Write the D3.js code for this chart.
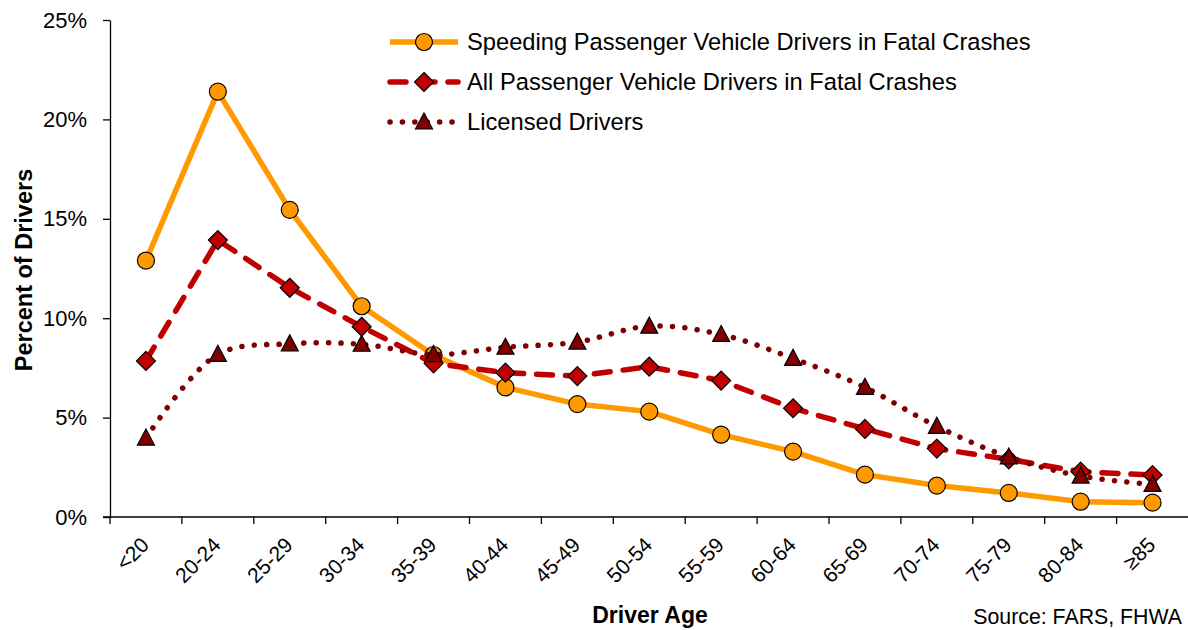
<!DOCTYPE html>
<html>
<head>
<meta charset="utf-8">
<script src="https://cdn.jsdelivr.net/npm/d3@7"></script>
<style>
  body { margin: 0; background: #fff; }
  text { font-family: "Liberation Sans", Arial, sans-serif; fill: #000; }
</style>
</head>
<body>
<div id="chart"></div>
<script>
// age groups on the x axis
const ages = ["<20", "20-24", "25-29", "30-34", "35-39", "40-44", "45-49", "50-54",
  "55-59", "60-64", "65-69", "70-74", "75-79", "80-84", "≥85"]

// percent of drivers
const speeding = [12.9, 21.4, 15.45, 10.6, 8.15, 6.52, 5.68, 5.3, 4.14, 3.29, 2.13, 1.58, 1.21, 0.77, 0.72]
const allDrivers = [7.85, 13.93, 11.53, 9.57, 7.73, 7.26, 7.09, 7.56, 6.86, 5.47, 4.43, 3.44, 2.9, 2.28, 2.11]
const licensed = [3.97, 8.18, 8.71, 8.69, 8.17, 8.54, 8.8, 9.6, 9.18, 7.98, 6.52, 4.56, 3.02, 2.06, 1.64]

const yTicks = [0, 5, 10, 15, 20, 25]

const seriesNames = [
  "Speeding Passenger Vehicle Drivers in Fatal Crashes",
  "All Passenger Vehicle Drivers in Fatal Crashes",
  "Licensed Drivers"
]

const width = 1188
const height = 630
const margin = ({ top: 20, right: 0, bottom: 113, left: 110 })

const x = d3.scaleBand()
  .domain(ages)
  .range([margin.left, 1188.5])
  .padding(0)

const y = d3.scaleLinear()
  .domain([0, 25])
  .range([height - margin.bottom, margin.top])

const xc = d => x(d) + x.bandwidth() / 2

const series = [
  { name: seriesNames[0], values: speeding, color: "#FF9900", fill: "#FF9900", dash: null, cap: "butt", width: 5.5, symbol: "circle", curve: d3.curveLinear },
  { name: seriesNames[1], values: allDrivers, color: "#C00000", fill: "#C00000", dash: "16 13", cap: "round", width: 5.5, symbol: "diamond", curve: d3.curveLinear },
  { name: seriesNames[2], values: licensed, color: "#7F0000", fill: "#800000", dash: "0.1 12.3", cap: "round", width: 5.5, symbol: "triangle", curve: d3.curveCatmullRom.alpha(0.5) }
]

const svg = d3.select("#chart")
  .append("svg")
  .attr("width", width)
  .attr("height", height)

// marker shapes
const drawMarker = (g, symbol, fill) => {
  if (symbol === "circle") {
    g.append("circle").attr("r", 8.5)
  } else if (symbol === "diamond") {
    g.append("path").attr("d", "M0,-9.5L9.5,0L0,9.5L-9.5,0Z")
  } else {
    g.append("path").attr("d", "M0,-9L8.5,7L-8.5,7Z")
  }
  g.selectAll("*")
    .attr("fill", fill)
    .attr("stroke", "#000")
    .attr("stroke-width", 1.2)
}

// y axis
svg.append("g")
  .attr("transform", `translate(${margin.left},0)`)
  .call(d3.axisLeft(y).tickValues(yTicks).tickFormat(d => d + "%").tickSize(7).tickPadding(16).tickSizeOuter(0))
  .call(g => g.select(".domain").attr("stroke", "#000").attr("stroke-width", 1.3))
  .call(g => g.selectAll(".tick line").attr("stroke", "#000").attr("stroke-width", 1.3))
  .call(g => g.selectAll(".tick text")
    .attr("font-size", 22)
    .attr("font-family", "Liberation Sans, Arial, sans-serif"))

// x axis: labels at band centres, ticks on band edges
const xAxis = svg.append("g")
  .attr("transform", `translate(0,${y(0)})`)

xAxis.append("line")
  .attr("x1", margin.left - 7)
  .attr("x2", 1188)
  .attr("stroke", "#000")
  .attr("stroke-width", 1.3)

xAxis.selectAll(".tk")
  .data(ages)
  .join("line")
  .attr("class", "tk")
  .attr("x1", d => x(d))
  .attr("x2", d => x(d))
  .attr("y1", 0)
  .attr("y2", 7)
  .attr("stroke", "#000")
  .attr("stroke-width", 1.3)

xAxis.selectAll(".lbl")
  .data(ages)
  .join("text")
  .attr("class", "lbl")
  .attr("text-anchor", "end")
  .attr("font-size", 21)
  .attr("transform", d => `translate(${xc(d) - 1},${24}) rotate(-45)`)
  .attr("dy", "0.35em")
  .text(d => d)

// lines and markers, one series after another
const line = (values, curve) => d3.line()
  .x((d, i) => xc(ages[i]))
  .y(d => y(d))
  .curve(curve)(values)

series.forEach(s => {
  svg.append("path")
    .attr("d", line(s.values, s.curve))
    .attr("fill", "none")
    .attr("stroke", s.color)
    .attr("stroke-width", s.width)
    .attr("stroke-dasharray", s.dash)
    .attr("stroke-linecap", s.cap)
    .attr("stroke-linejoin", "round")

  svg.append("g")
    .selectAll("g")
    .data(s.values)
    .join("g")
    .attr("transform", (d, i) => `translate(${xc(ages[i])},${y(d)})`)
    .each(function () { drawMarker(d3.select(this), s.symbol, s.fill) })
})

// legend
const legend = svg.append("g")
series.forEach((s, i) => {
  const ly = 42 + i * 40
  legend.append("line")
    .attr("x1", 390).attr("x2", 458)
    .attr("y1", ly).attr("y2", ly)
    .attr("stroke", s.color)
    .attr("stroke-width", s.width)
    .attr("stroke-dasharray", s.dash)
    .attr("stroke-linecap", s.cap)
  drawMarker(legend.append("g").attr("transform", `translate(424,${ly})`), s.symbol, s.fill)
  legend.append("text")
    .attr("x", 467)
    .attr("y", ly)
    .attr("dy", "0.35em")
    .attr("font-size", 23.7)
    .text(s.name)
})

// axis titles
svg.append("text")
  .attr("transform", `translate(32,270) rotate(-90)`)
  .attr("text-anchor", "middle")
  .attr("font-size", 23.5)
  .attr("font-weight", "bold")
  .text("Percent of Drivers")

svg.append("text")
  .attr("x", 650)
  .attr("y", 623)
  .attr("text-anchor", "middle")
  .attr("font-size", 23)
  .attr("font-weight", "bold")
  .text("Driver Age")

svg.append("text")
  .attr("x", 1182)
  .attr("y", 624)
  .attr("text-anchor", "end")
  .attr("font-size", 21.3)
  .text("Source: FARS, FHWA")
</script>
</body>
</html>
